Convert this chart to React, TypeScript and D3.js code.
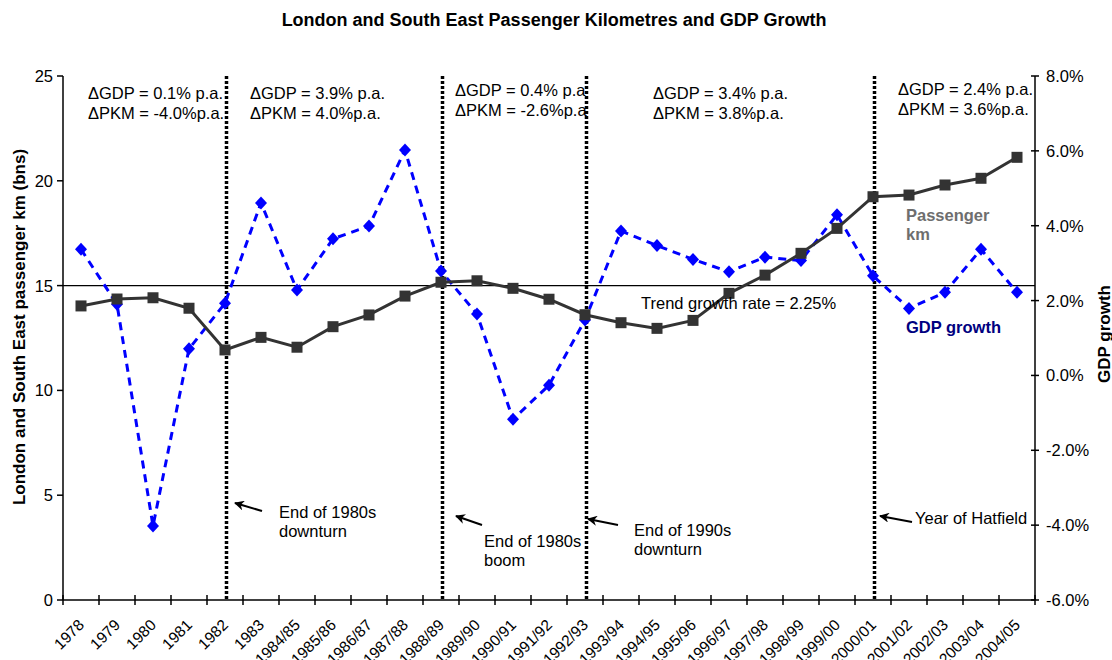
import React from 'react';
import * as d3 from 'd3';

const categories = ['1978','1979','1980','1981','1982','1983','1984/85','1985/86','1986/87','1987/88','1988/89','1989/90','1990/91','1991/92','1992/93','1993/94','1994/95','1995/96','1996/97','1997/98','1998/99','1999/00','2000/01','2001/02','2002/03','2003/04','2004/05'];
const passengerKm = [14.03,14.36,14.42,13.92,11.93,12.53,12.06,13.04,13.6,14.5,15.16,15.23,14.87,14.35,13.61,13.23,12.96,13.34,14.63,15.5,16.54,17.73,19.24,19.32,19.8,20.12,21.12];
const gdpGrowth = [3.37,1.9,-4.02,0.71,1.93,4.61,2.28,3.65,3.99,6.02,2.79,1.64,-1.17,-0.26,1.48,3.86,3.47,3.1,2.77,3.16,3.07,4.29,2.66,1.79,2.22,3.37,2.22];
const leftTicks = [0,5,10,15,20,25];
const rightTicks = [-6,-4,-2,0,2,4,6,8];
const trendLevel = 15;
const breakYears = ['1982','1988/89','1992/93','2000/01'];
const periodNotes = [
  ['ΔGDP = 0.1% p.a.', 'ΔPKM = -4.0%p.a.'],
  ['ΔGDP = 3.9% p.a.', 'ΔPKM = 4.0%p.a.'],
  ['ΔGDP = 0.4% p.a', 'ΔPKM = -2.6%p.a'],
  ['ΔGDP = 3.4% p.a.', 'ΔPKM = 3.8%p.a.'],
  ['ΔGDP = 2.4% p.a.', 'ΔPKM = 3.6%p.a.'],
];
const eventNotes = [
  ['End of 1980s', 'downturn'],
  ['End of 1980s', 'boom'],
  ['End of 1990s', 'downturn'],
  ['Year of Hatfield'],
];

const W = 1112, H = 660;
const M = { left: 63, right: 1035, top: 76, bottom: 600 };
const FONT = 'Liberation Sans, Arial, sans-serif';
const FS = 16.5;

// layout of annotations (pixel positions)
const notePos = [
  { x: 88, y: 99 },
  { x: 250, y: 99 },
  { x: 455, y: 96 },
  { x: 653, y: 99 },
  { x: 898, y: 95 },
];
const eventPos = [
  { tx: 279, ty: 518, from: [262, 511], to: [235, 503] },
  { tx: 484, ty: 547, from: [482, 525], to: [456, 516] },
  { tx: 634, ty: 536, from: [618, 525], to: [588, 519] },
  { tx: 915, ty: 524, from: [912, 522], to: [880, 516] },
];

export default function App() {
  const x = d3.scaleBand().domain(categories).range([M.left, M.right]).padding(0);
  const cx = (c: string) => (x(c) as number) + x.bandwidth() / 2;
  const yL = d3.scaleLinear().domain([0, 25]).range([M.bottom, M.top]);
  const yR = d3.scaleLinear().domain([-6, 8]).range([M.bottom, M.top]);

  const pkLine = d3.line<number>().x((_, i) => cx(categories[i])).y((d) => yL(d))(passengerKm) || '';
  const gdpLine = d3.line<number>().x((_, i) => cx(categories[i])).y((d) => yR(d))(gdpGrowth) || '';

  const bandTicks = categories.map((_, i) => M.left + i * x.bandwidth()).concat([M.right]);

  return (
    <svg width={W} height={H} style={{ position: 'fixed', left: 0, top: 0, background: '#fff' }} fontFamily={FONT}>
      <defs>
        <marker id="arr" viewBox="0 0 10 10" refX="9" refY="5" markerWidth="5" markerHeight="5" orient="auto-start-reverse">
          <path d="M0,0 L10,5 L0,10 L3,5 Z" fill="#000" />
        </marker>
      </defs>
      <text x={554} y={26} textAnchor="middle" fontWeight="bold" fontSize={18}>London and South East Passenger Kilometres and GDP Growth</text>

      {/* trend line */}
      <line x1={M.left} x2={M.right} y1={yL(trendLevel)} y2={yL(trendLevel)} stroke="#000" strokeWidth={1.3} />

      {/* break lines */}
      {breakYears.map((b) => (
        <line key={b} x1={cx(b) + 1.5} x2={cx(b) + 1.5} y1={M.top} y2={M.bottom} stroke="#000" strokeWidth={3.5} strokeDasharray="3 2" />
      ))}

      {/* axes */}
      <line x1={M.left} x2={M.left} y1={M.top} y2={M.bottom} stroke="#000" strokeWidth={1.5} />
      <line x1={M.right} x2={M.right} y1={M.top} y2={M.bottom} stroke="#000" strokeWidth={1.5} />
      <line x1={M.left} x2={M.right} y1={M.bottom} y2={M.bottom} stroke="#000" strokeWidth={1.5} />
      {leftTicks.map((t) => (
        <g key={'l' + t}>
          <line x1={M.left - 6} x2={M.left} y1={yL(t)} y2={yL(t)} stroke="#000" strokeWidth={1.5} />
          <text x={M.left - 10} y={yL(t)} dy="0.36em" textAnchor="end" fontSize={FS}>{t}</text>
        </g>
      ))}
      {rightTicks.map((t) => (
        <g key={'r' + t}>
          <line x1={M.right - 4} x2={M.right + 4} y1={yR(t)} y2={yR(t)} stroke="#000" strokeWidth={1.5} />
          <text x={M.right + 11} y={yR(t)} dy="0.36em" textAnchor="start" fontSize={FS}>{t.toFixed(1) + '%'}</text>
        </g>
      ))}
      {bandTicks.map((t, i) => (
        <line key={'b' + i} x1={t} x2={t} y1={M.bottom - 5} y2={M.bottom + 5} stroke="#000" strokeWidth={1.5} />
      ))}
      {categories.map((c) => (
        <text key={'c' + c} transform={`translate(${cx(c) + 4},626) rotate(-45)`} textAnchor="end" fontSize={15.5}>{c}</text>
      ))}

      <text transform={`translate(25,327) rotate(-90)`} textAnchor="middle" fontWeight="bold" fontSize={17}>London and South East passenger km (bns)</text>
      <text transform={`translate(1110,334) rotate(-90)`} textAnchor="middle" fontWeight="bold" fontSize={17}>GDP growth</text>

      {/* GDP series */}
      <path d={gdpLine} fill="none" stroke="#0000ff" strokeWidth={3} strokeDasharray="8 6" />
      {gdpGrowth.map((g, i) => {
        const px = cx(categories[i]), py = yR(g);
        return <path key={'g' + i} d={`M${px},${py - 6.5}L${px + 6},${py}L${px},${py + 6.5}L${px - 6},${py}Z`} fill="#0000ff" />;
      })}

      {/* Passenger km series */}
      <path d={pkLine} fill="none" stroke="#333333" strokeWidth={3} />
      {passengerKm.map((v, i) => (
        <rect key={'p' + i} x={cx(categories[i]) - 5.5} y={yL(v) - 5.5} width={11} height={11} fill="#333333" />
      ))}

      {/* period notes */}
      {periodNotes.map((n, i) => (
        <text key={'n' + i} x={notePos[i].x} y={notePos[i].y} fontSize={FS}>
          <tspan x={notePos[i].x}>{n[0]}</tspan>
          <tspan x={notePos[i].x} dy={19.5}>{n[1]}</tspan>
        </text>
      ))}

      <text x={641} y={309} fontSize={FS}>Trend growth rate = 2.25%</text>
      <text x={906} y={221} fontSize={FS} fontWeight="bold" fill="#6e6e6e">
        <tspan x={906}>Passenger</tspan>
        <tspan x={906} dy={19}>km</tspan>
      </text>
      <text x={906} y={333} fontSize={FS} fontWeight="bold" fill="#000080">GDP growth</text>

      {eventNotes.map((n, i) => (
        <g key={'e' + i}>
          <line x1={eventPos[i].from[0]} y1={eventPos[i].from[1]} x2={eventPos[i].to[0]} y2={eventPos[i].to[1]} stroke="#000" strokeWidth={2} markerEnd="url(#arr)" />
          <text x={eventPos[i].tx} y={eventPos[i].ty} fontSize={FS}>
            {n.map((s, j) => (
              <tspan key={j} x={eventPos[i].tx} dy={j === 0 ? 0 : 18.5}>{s}</tspan>
            ))}
          </text>
        </g>
      ))}
    </svg>
  );
}
